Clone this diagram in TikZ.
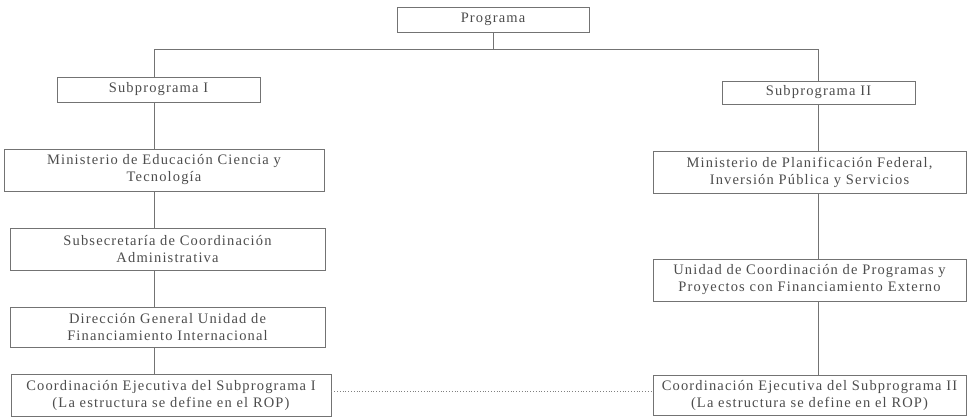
\documentclass[tikz,border=0pt]{standalone}
\usepackage{fontspec}
\setmainfont{Liberation Serif}[LetterSpace=8]
\begin{document}
\begin{tikzpicture}[x=1pt,y=-1pt,
  box/.style={draw=black!55, line width=0.8pt, rectangle, inner sep=0pt,
    align=center, text=black!70, font=\fontsize{14.5}{17}\selectfont},
  conn/.style={draw=black!55, line width=0.8pt},
  dotconn/.style={draw=black!50, line width=0.8pt, dotted}]
\useasboundingbox (0,0) rectangle (968,418);
\node[box, minimum width=192pt, minimum height=25pt] (prog) at (493,19.5) {Programa};
\node[box, minimum width=203pt, minimum height=25pt] (sub1) at (158.5,89.5) {Subprograma I};
\node[box, minimum width=193pt, minimum height=23pt] (sub2) at (818.5,92.5) {Subprograma II};
\node[box, minimum width=320pt, minimum height=42pt] (minE) at (164,170) {Ministerio de Educación Ciencia y\\Tecnología};
\node[box, minimum width=315pt, minimum height=42pt] (subsec) at (167.5,249) {Subsecretaría de Coordinación\\Administrativa};
\node[box, minimum width=315pt, minimum height=40pt] (dir) at (167.5,327) {Dirección General Unidad de\\Financiamiento Internacional};
\node[box, minimum width=320pt, minimum height=42pt] (coord1) at (171,395.5) {Coordinación Ejecutiva del Subprograma I\\(La estructura se define en el ROP)};
\node[box, minimum width=313pt, minimum height=42pt] (minP) at (809.5,172) {Ministerio de Planificación Federal,\\Inversión Pública y Servicios};
\node[box, minimum width=313pt, minimum height=42pt] (unid) at (809.5,280) {Unidad de Coordinación de Programas y\\Proyectos con Financiamiento Externo};
\node[box, minimum width=313pt, minimum height=40pt] (coord2) at (809.5,395) {Coordinación Ejecutiva del Subprograma II\\(La estructura se define en el ROP)};
\coordinate (tl) at (154,49);
\coordinate (tr) at (818,49);
\draw[conn] (prog.south) -- (prog.south |- tl);
\draw[conn] (sub1.north -| tl) -- (tl) -- (tr) -- (sub2.north -| tr);
\draw[conn] (sub1.south -| tl) -- (minE.north -| tl);
\draw[conn] (minE.south -| tl) -- (subsec.north -| tl);
\draw[conn] (subsec.south -| tl) -- (dir.north -| tl);
\draw[conn] (dir.south -| tl) -- (coord1.north -| tl);
\draw[conn] (sub2.south -| tr) -- (minP.north -| tr);
\draw[conn] (minP.south -| tr) -- (unid.north -| tr);
\draw[conn] (unid.south -| tr) -- (coord2.north -| tr);
\draw[dotconn] ([yshift=4pt]coord1.east) -- ([yshift=4pt]coord1.east -| coord2.west);
\end{tikzpicture}
\end{document}
